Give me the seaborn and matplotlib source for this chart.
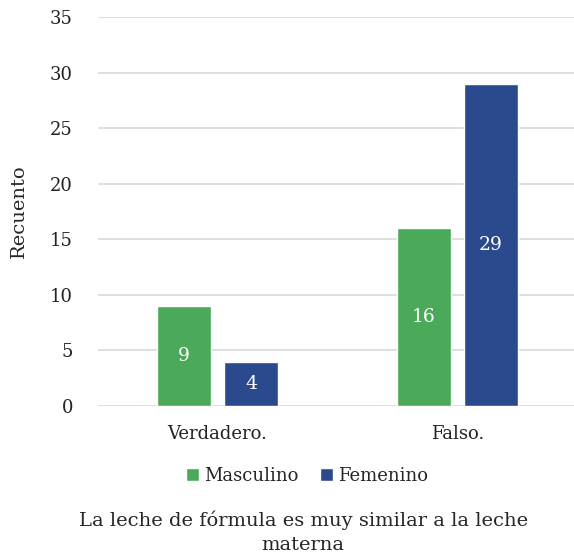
import pandas as pd
import matplotlib
matplotlib.use("Agg")
import matplotlib.pyplot as plt
import seaborn as sns

# datos
respuestas = ["Verdadero.", "Falso."]
masculino = [9, 16]
femenino = [4, 29]
sexos = ["Masculino", "Femenino"]
colores = ["#4BAA5A", "#2B4A8D"]

df = pd.DataFrame({
    "Respuesta": respuestas * 2,
    "Sexo": [sexos[0]] * 2 + [sexos[1]] * 2,
    "Recuento": masculino + femenino,
})

sns.set_style("white")
plt.rcParams["font.family"] = ["DejaVu Serif"]

fig = plt.figure(figsize=(5.74, 5.55), dpi=100)
ax = fig.add_axes([0.1707, 0.2685, 0.8293, 0.7009])

sns.barplot(data=df, x="Respuesta", y="Recuento", hue="Sexo", order=respuestas,
            hue_order=sexos, palette=colores, width=0.558, gap=0.194,
            saturation=1, legend=True, ax=ax, zorder=3)

for cont in ax.containers:
    ax.bar_label(cont, label_type="center", color="white", fontsize=13.5)

ax.set_ylim(0, 35)
ax.set_yticks(range(0, 36, 5))
ax.set_xlim(-0.498, 1.485)
ax.yaxis.grid(True, color="#D9D9D9", linewidth=1.2, zorder=0)
ax.set_axisbelow(True)
for s in ax.spines.values():
    s.set_visible(False)
ax.tick_params(axis="both", length=0, labelsize=13, colors="#222222")
ax.tick_params(axis="y", pad=18)
ax.tick_params(axis="x", pad=14)
ax.set_xlabel("")
ax.set_ylabel("Recuento", fontsize=14, labelpad=16)

ax.legend(loc="center", bbox_to_anchor=(0.44, -0.18), ncol=2, frameon=False,
          fontsize=13, handlelength=0.7, handleheight=0.7, handletextpad=0.3,
          columnspacing=1.2)

fig.text(0.528, 0.041, "La leche de fórmula es muy similar a la leche\nmaterna",
         ha="center", va="center", fontsize=14, linespacing=1.45)

fig.savefig("out.png", dpi=100)
